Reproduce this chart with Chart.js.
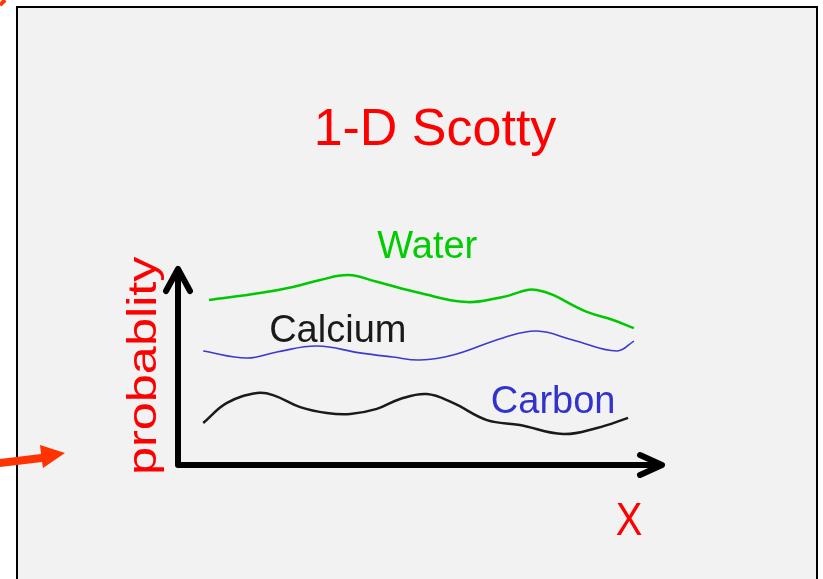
<!DOCTYPE html>
<html>
<head>
<meta charset="utf-8">
<script src="https://cdn.jsdelivr.net/npm/chart.js@4.4.1/dist/chart.umd.min.js"></script>
<style>
  html, body { margin: 0; padding: 0; background: #fff; }
  canvas { display: block; }
</style>
</head>
<body>
<canvas id="c" width="823" height="579"></canvas>
<script>
// position along X (0..10) and probability (0..1)
const waterX = [0.64, 1.69, 2.37, 2.93, 3.51, 4.10, 4.99, 5.96, 6.70, 7.40, 8.43, 8.97, 9.40];
const waterY = [0.838, 0.873, 0.904, 0.939, 0.964, 0.930, 0.873, 0.827, 0.853, 0.888, 0.777, 0.736, 0.695];

const calciumX = [0.52, 1.42, 2.04, 2.87, 3.75, 4.43, 4.99, 5.67, 6.70, 7.40, 8.14, 9.05, 9.40];
const calciumY = [0.579, 0.543, 0.574, 0.604, 0.569, 0.548, 0.533, 0.558, 0.645, 0.680, 0.635, 0.579, 0.629];

const carbonX = [0.52, 1.01, 1.63, 1.96, 2.52, 3.07, 3.55, 4.10, 4.58, 5.13, 5.67, 6.37, 7.05, 7.94, 8.64, 9.28];
const carbonY = [0.213, 0.315, 0.365, 0.355, 0.294, 0.264, 0.259, 0.285, 0.335, 0.360, 0.315, 0.228, 0.203, 0.157, 0.188, 0.239];

// curve labels: text, colour, anchor in data units (left edge, baseline)
const labelText = ['Water', 'Calcium', 'Carbon'];
const labelColor = ['#00cc00', '#1a1a1a', '#3333cc'];
const labelAtX = [4.11, 1.88, 6.45];
const labelAtY = [1.05, 0.625, 0.264];

const FONT = '"Liberation Sans", Arial, Helvetica, sans-serif';

const toPoints = (xs, ys) => xs.map((x, i) => ({ x, y: ys[i] }));

// slide frame, stray arrows, axes arrows and all texts
const slidePlugin = {
  id: 'slide',
  beforeDraw(chart) {
    const ctx = chart.ctx;
    ctx.save();
    ctx.fillStyle = '#ffffff';
    ctx.fillRect(0, 0, chart.width, chart.height);
    ctx.fillStyle = '#f2f2f2';
    ctx.fillRect(17, 7, 800, 600);
    ctx.strokeStyle = '#000';
    ctx.lineWidth = 2;
    ctx.strokeRect(17, 7, 800, 600);

    // orange pointer arrow from the left
    ctx.fillStyle = '#ff3300';
    ctx.beginPath();
    ctx.moveTo(0, 459);
    ctx.lineTo(41, 454);
    ctx.lineTo(40, 445);
    ctx.lineTo(65, 453);
    ctx.lineTo(43, 468);
    ctx.lineTo(42, 462);
    ctx.lineTo(0, 467);
    ctx.closePath();
    ctx.fill();

    // bit of another arrow at the top-left corner
    ctx.strokeStyle = '#ff3300';
    ctx.lineWidth = 4;
    ctx.beginPath();
    ctx.moveTo(0, 5);
    ctx.lineTo(5, 0);
    ctx.stroke();
    ctx.restore();
  },
  afterDraw(chart) {
    const ctx = chart.ctx;
    const a = chart.chartArea;
    const sx = chart.scales.x, sy = chart.scales.y;
    ctx.save();

    // axes with chevron heads
    ctx.strokeStyle = '#000';
    ctx.lineWidth = 6;
    ctx.lineCap = 'round';
    ctx.lineJoin = 'round';
    ctx.beginPath();
    ctx.moveTo(a.left, a.top + 3);
    ctx.lineTo(a.left, a.bottom);
    ctx.lineTo(a.right - 3, a.bottom);
    ctx.stroke();
    ctx.beginPath();
    ctx.moveTo(a.left - 12, a.top + 23);
    ctx.lineTo(a.left, a.top + 1);
    ctx.lineTo(a.left + 12, a.top + 23);
    ctx.stroke();
    ctx.beginPath();
    ctx.moveTo(a.right - 23, a.bottom - 10);
    ctx.lineTo(a.right - 1, a.bottom);
    ctx.lineTo(a.right - 23, a.bottom + 10);
    ctx.stroke();

    // title
    ctx.fillStyle = '#ff0000';
    ctx.font = '52px ' + FONT;
    ctx.textAlign = 'center';
    ctx.textBaseline = 'alphabetic';
    ctx.fillText('1-D Scotty', 435, 145);

    // curve labels
    ctx.textAlign = 'left';
    ctx.font = '38px ' + FONT;
    labelText.forEach((t, i) => {
      ctx.fillStyle = labelColor[i];
      ctx.fillText(t, sx.getPixelForValue(labelAtX[i]), sy.getPixelForValue(labelAtY[i]));
    });

    // axis names
    ctx.fillStyle = '#ff0000';
    ctx.save();
    ctx.translate(156, 475);
    ctx.rotate(-Math.PI / 2);
    ctx.scale(1.26, 1);
    ctx.font = '40px ' + FONT;
    ctx.fillText('probablity', 0, 0);
    ctx.restore();

    ctx.save();
    ctx.translate(629, 535);
    ctx.scale(0.85, 1);
    ctx.font = '47px ' + FONT;
    ctx.textAlign = 'center';
    ctx.fillText('X', 0, 0);
    ctx.restore();

    ctx.restore();
  }
};

new Chart(document.getElementById('c'), {
  type: 'line',
  data: {
    datasets: [
      { label: 'Water', data: toPoints(waterX, waterY), borderColor: '#00c800', borderWidth: 2.5 },
      { label: 'Calcium', data: toPoints(calciumX, calciumY), borderColor: '#3a3ad0', borderWidth: 1.6 },
      { label: 'Carbon', data: toPoints(carbonX, carbonY), borderColor: '#1a1a1a', borderWidth: 2.5 }
    ]
  },
  options: {
    responsive: false,
    devicePixelRatio: 1,
    animation: false,
    events: [],
    layout: { padding: { left: 178, right: 160, top: 268, bottom: 114 } },
    elements: {
      line: { tension: 0.4, fill: false, capBezierPoints: true },
      point: { radius: 0 }
    },
    datasets: { line: { clip: false } },
    scales: {
      x: { type: 'linear', min: 0, max: 10, display: false },
      y: { type: 'linear', min: 0, max: 1, display: false }
    },
    plugins: {
      legend: { display: false },
      title: { display: false },
      tooltip: { enabled: false }
    }
  },
  plugins: [slidePlugin]
});
</script>
</body>
</html>
